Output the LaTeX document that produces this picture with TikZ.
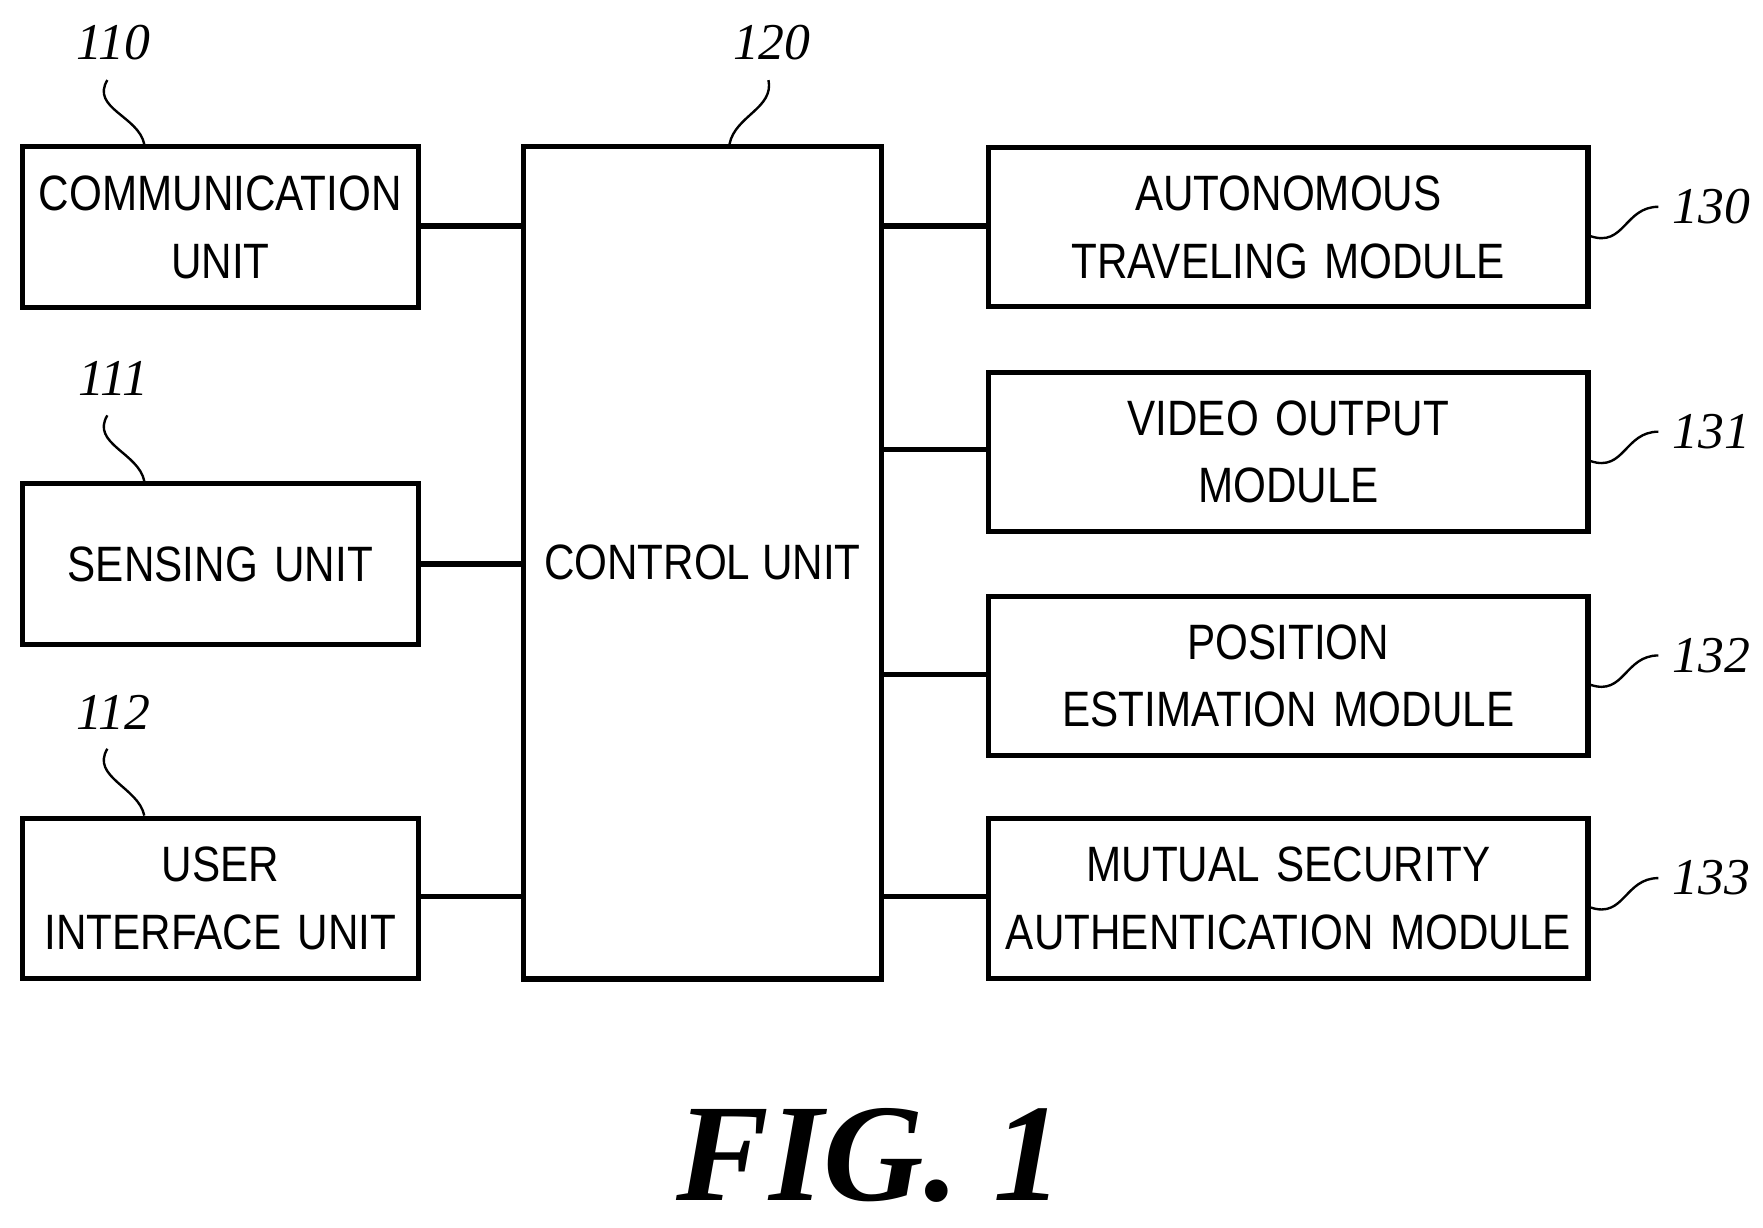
\documentclass[tikz,border=0pt]{standalone}
\usepackage{fontspec}
\setmainfont{Liberation Sans}
\newfontfamily\boxfont[FakeStretch=0.85]{Liberation Sans}
\newfontfamily\numfont{Liberation Serif}
\tikzset{
  blk/.style={draw,line width=1.3pt,align=center,font=\boxfont\fontsize{12.5}{17}\selectfont,inner sep=0pt},
  lft/.style={blk,minimum width=3.5cm,minimum height=1.42cm,text width=3.4cm},
  rgt/.style={blk,minimum width=5.3cm,minimum height=1.41cm,text width=5.2cm},
  lnk/.style={line width=1.3pt},
  refno/.style={font=\numfont\itshape\fontsize{13}{13}\selectfont},
  lead/.style={line width=0.6pt}
}
\begin{document}
\begin{tikzpicture}[x=0.01cm,y=-0.01cm]
\useasboundingbox (0,0) rectangle (1560,1086);
% left column
\node[lft] (comm) at (195,201) {COMMUNICATION\\UNIT};
\node[lft] (sens) at (195,499) {SENSING UNIT};
\node[lft] (ui) at (195,795) {USER\\INTERFACE UNIT};
% control unit
\node[blk,minimum width=3.17cm,minimum height=7.36cm] (ctrl) at (621.5,498) {CONTROL UNIT};
% right column
\node[rgt] (auto) at (1140,201) {AUTONOMOUS\\TRAVELING MODULE};
\node[rgt] (video) at (1140,400) {VIDEO OUTPUT\\MODULE};
\node[rgt] (pos) at (1140,598) {POSITION\\ESTIMATION MODULE};
\node[rgt] (sec) at (1140,795) {MUTUAL SECURITY\\AUTHENTICATION MODULE};
% connectors
\draw[lnk] (comm.east |- 0,200) -- (ctrl.west |- 0,200);
\draw[lnk] (sens) -- (ctrl.west |- sens);
\draw[lnk] (ui.east |- 0,793) -- (ctrl.west |- 0,793);
\foreach \n/\y in {auto/200,video/398,pos/597,sec/793}
  \draw[lnk] (ctrl.east |- 0,\y) -- (\n.west |- 0,\y);
% reference numerals
\node[refno] (n110) at (100,38) {110};
\node[refno] (n111) at (100,335) {111};
\node[refno] (n112) at (100,630) {112};
\node[refno] (n120) at (683,38) {120};
\foreach \a/\b in {n110/comm,n111/sens,n112/ui}
  \draw[lead] ([xshift=-0.05cm,yshift=-0.05cm]\a.south) .. controls +(-15,25) and +(-5,-25) .. ([xshift=1.1cm]\b.north west);
\draw[lead] ([xshift=-0.03cm,yshift=-0.05cm]n120.south) .. controls +(5,25) and +(5,-25) .. ([xshift=0.24cm]ctrl.north);
\foreach \n/\b in {130/auto,131/video,132/pos,133/sec}{
  \node[refno,anchor=west] (n\n) at ([xshift=0.6cm,yshift=0.18cm]\b.east) {\n};
  \draw[lead] ([yshift=-0.08cm]\b.east) .. controls +(30,10) and +(-30,0) .. (n\n.west);
}
\node[font=\numfont\bfseries\itshape\fontsize{35}{35}\selectfont] (fig) at (770,1022) {FIG. 1};
\end{tikzpicture}
\end{document}
